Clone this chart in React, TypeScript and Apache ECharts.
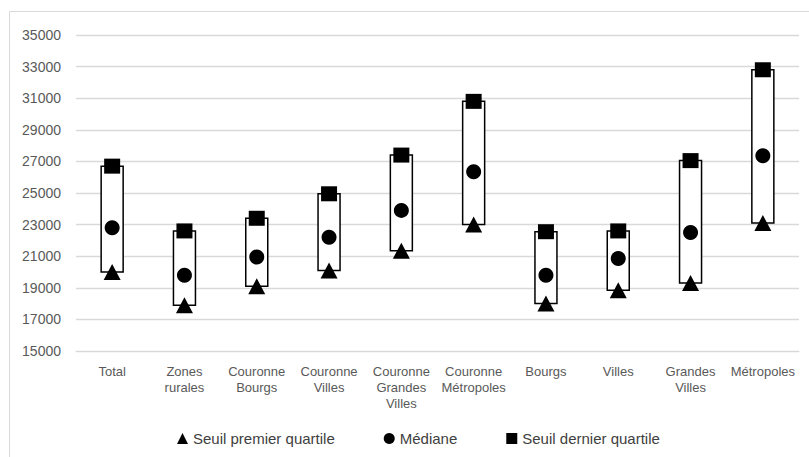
import React, { useEffect, useRef } from "react";
import * as echarts from "echarts";

const categories = [
  "Total",
  "Zones rurales",
  "Couronne Bourgs",
  "Couronne Villes",
  "Couronne Grandes Villes",
  "Couronne Métropoles",
  "Bourgs",
  "Villes",
  "Grandes Villes",
  "Métropoles",
];
const q1Values = [20000, 17900, 19100, 20100, 21350, 23000, 18000, 18850, 19300, 23100];
const medianValues = [22800, 19800, 20950, 22200, 23900, 26350, 19800, 20850, 22500, 27350];
const q3Values = [26700, 22600, 23400, 24950, 27400, 30800, 22550, 22600, 27050, 32800];

const seriesNames = ["Seuil premier quartile", "Médiane", "Seuil dernier quartile"];
const yMin = 15000;
const yMax = 35000;
const yLabelStep = 2000;

const FONT = "'Liberation Sans', Arial, sans-serif";

export default function App() {
  const ref = useRef<HTMLDivElement>(null);

  useEffect(() => {
    if (!ref.current) return;
    const chart = echarts.init(ref.current, undefined, { renderer: "svg" });

    const boxData = categories.map((_, i) => [i, q1Values[i], q3Values[i]]);

    const option: any = {
      animation: false,
      backgroundColor: "#ffffff",
      graphic: [
        {
          type: "rect",
          shape: { x: 9.5, y: 11.5, width: 900, height: 500 },
          style: { fill: "none", stroke: "#d9d9d9", lineWidth: 1 },
          silent: true,
          z: -10,
        },
      ],
      grid: { left: 76, right: 10, top: 35, bottom: 106, containLabel: false },
      legend: {
        data: seriesNames,
        left: 177,
        top: 431,
        padding: 0,
        itemWidth: 11,
        itemHeight: 11,
        itemGap: 49,
        textStyle: { color: "#404040", fontSize: 15, fontFamily: FONT },
      },
      xAxis: {
        type: "category",
        data: categories,
        axisLine: { show: true, lineStyle: { color: "#d9d9d9", width: 1 } },
        axisTick: { show: false },
        axisLabel: {
          interval: 0,
          margin: 12,
          color: "#595959",
          fontSize: 13,
          lineHeight: 16,
          fontFamily: FONT,
          formatter: (v: string) => v.split(" ").join("\n"),
        },
        splitLine: { show: false },
      },
      yAxis: {
        type: "value",
        min: yMin,
        max: yMax,
        interval: yLabelStep / 2,
        axisLine: { show: false },
        axisTick: { show: false },
        axisLabel: {
          margin: 15,
          color: "#595959",
          fontSize: 14,
          fontFamily: FONT,
          formatter: (v: number) => ((v - yMin) % yLabelStep === 0 ? String(v) : ""),
        },
        splitLine: {
          show: true,
          lineStyle: { color: ["#d9d9d9", "rgba(0,0,0,0)"], width: 1.3 },
        },
      },
      series: [
        {
          type: "custom",
          name: "box",
          z: 1,
          data: boxData,
          encode: { x: 0, y: [1, 2] },
          renderItem: (params: any, api: any) => {
            const idx = api.value(0);
            const lo = api.coord([idx, api.value(1)]);
            const hi = api.coord([idx, api.value(2)]);
            const w = 22;
            return {
              type: "rect",
              shape: { x: lo[0] - w / 2, y: hi[1], width: w, height: lo[1] - hi[1] },
              style: { fill: "#ffffff", stroke: "#000000", lineWidth: 1.5 },
            };
          },
        },
        {
          type: "scatter",
          name: seriesNames[0],
          data: q1Values,
          symbol: "triangle",
          symbolSize: [17, 16],
          itemStyle: { color: "#000000", opacity: 1 },
          z: 3,
        },
        {
          type: "scatter",
          name: seriesNames[1],
          data: medianValues,
          symbol: "circle",
          symbolSize: 15,
          itemStyle: { color: "#000000", opacity: 1 },
          z: 3,
        },
        {
          type: "scatter",
          name: seriesNames[2],
          data: q3Values,
          symbol: "rect",
          symbolSize: [16, 15],
          itemStyle: { color: "#000000", opacity: 1 },
          z: 3,
        },
      ],
    };

    chart.setOption(option);
    return () => chart.dispose();
  }, []);

  return (
    <div
      ref={ref}
      style={{ position: "absolute", left: 0, top: 0, width: 809, height: 457 }}
    />
  );
}
